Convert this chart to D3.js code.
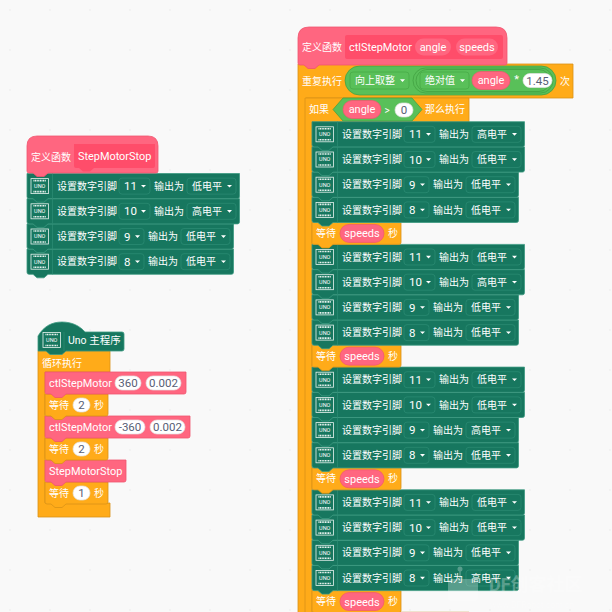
<!DOCTYPE html>
<html><head><meta charset="utf-8">
<script src="https://cdn.jsdelivr.net/npm/d3@7/dist/d3.min.js"></script>
<style>html,body{margin:0;padding:0;background:#f9f9f9}svg{display:block}
text{font-family:Roboto,"Noto Sans CJK SC","Noto Sans",sans-serif;fill:#fff;font-size:10px}</style>
</head><body><svg id="c" width="612" height="612"></svg>
<script>
// ---- content ----
const funcNames = ["StepMotorStop", "ctlStepMotor"];
const params = ["angle", "speeds"];
const stopPins = [11, 10, 9, 8];
const stopLevels = ["低电平", "高电平", "低电平", "低电平"];
const motorPins = [11, 10, 9, 8];
const motorLevelGroups = [
  ["高电平", "低电平", "低电平", "低电平"],
  ["低电平", "高电平", "低电平", "低电平"],
  ["低电平", "低电平", "高电平", "低电平"],
  ["低电平", "低电平", "低电平", "高电平"]
];
const mainCalls = [["ctlStepMotor", "360", "0.002"], ["ctlStepMotor", "-360", "0.002"], ["StepMotorStop"]];
const mainWaits = ["2", "2", "1"];
const repeatFactor = "1.45";
const compareValue = "0";

// ---- palette ----
const C = {green:"#17775f", greenE:"#3d9a82", greenB:"#2b8a72", pink:"#ff6680", pinkD:"#ff4d6a", pinkE:"#f0566f",
  orange:"#ffab19", orangeE:"#d99316", lime:"#59c059", limeD:"#48ab48", limeE:"#3f9e3f", ink:"#575e75"};
const NAME=10.9;

const svg = d3.select("#c");
svg.append("rect").attr("width",612).attr("height",612).attr("fill","#f9f9f9");
// faint dotted workspace
const gx = d3.range(10,612,40), gy = d3.range(10,612,40);
svg.append("g").selectAll("circle").data(d3.cross(gx,gy)).join("circle")
  .attr("cx",d=>d[0]).attr("cy",d=>d[1]).attr("r",0.9).attr("fill","#f0f0f0");

// ---- shape helpers ----
function tabPath(x,y,w,h,opts={}){
  const p=d3.path(), r=2, tx=opts.tab===undefined?6:opts.tab;
  if(opts.hat){ const R=opts.hat; p.moveTo(x,y+R); p.quadraticCurveTo(x,y,x+R,y); p.lineTo(x+w-R,y); p.quadraticCurveTo(x+w,y,x+w,y+R); }
  else { p.moveTo(x,y); p.lineTo(x+w,y); }
  p.lineTo(x+w,y+h-r); p.quadraticCurveTo(x+w,y+h,x+w-r,y+h);
  if(!opts.noTab){ p.lineTo(x+tx+15,y+h); p.lineTo(x+tx+11,y+h+3.5); p.lineTo(x+tx+4,y+h+3.5); p.lineTo(x+tx,y+h); }
  p.lineTo(x+r,y+h); p.quadraticCurveTo(x,y+h,x,y+h-r); p.closePath();
  return p.toString();
}
function block(stack,x,y,w,h,fill,stroke,opts){
  const g=stack.append("g"); g.lower();
  g.append("path").attr("d",tabPath(x,y,w,h,opts)).attr("fill",fill).attr("stroke",stroke).attr("stroke-width",0.8);
  return g;
}
function label(g,x,y,t,size,anchor,fill){
  return g.append("text").attr("x",x).attr("y",y).attr("dy","0.36em").attr("font-size",size||10)
    .style("font-size",(size||10)+"px").attr("text-anchor",anchor||"start").style("fill",fill||"#fff").text(t);
}
function pill(g,x0,x1,cy,h,fill,stroke,t,tfill,size){
  g.append("rect").attr("x",x0).attr("y",cy-h/2).attr("width",x1-x0).attr("height",h).attr("rx",h/2)
    .attr("fill",fill).attr("stroke",stroke||"none").attr("stroke-width",0.7);
  if(t!==undefined) label(g,(x0+x1)/2,cy,t,size||11,"middle",tfill||"#fff");
}
function dropdown(g,x0,x1,cy,h,fill,stroke,t){
  g.append("rect").attr("x",x0).attr("y",cy-h/2).attr("width",x1-x0).attr("height",h).attr("rx",3)
    .attr("fill",fill).attr("stroke",stroke).attr("stroke-width",0.8);
  label(g,x0+5,cy,t,/\d/.test(t)?11.5:10);
  const p=d3.path(), ax=x1-9, ay=cy-1.2; p.moveTo(ax,ay); p.lineTo(ax+5,ay); p.lineTo(ax+2.5,ay+2.6); p.closePath();
  g.append("path").attr("d",p.toString()).attr("fill","#fff");
}
function unoIcon(g,x,cy){
  const w=17.5,h=15,y=cy-h/2;
  g.append("rect").attr("x",x).attr("y",y).attr("width",w).attr("height",h).attr("fill","none").attr("stroke","#e8f3ef").attr("stroke-width",0.8);
  g.append("line").attr("x1",x+2.5).attr("x2",x+w-2.5).attr("y1",y+2).attr("y2",y+2).attr("stroke","#fff").attr("stroke-width",1.6).attr("stroke-dasharray","1 .6");
  g.append("line").attr("x1",x+2.5).attr("x2",x+w-2.5).attr("y1",y+h-2).attr("y2",y+h-2).attr("stroke","#fff").attr("stroke-width",1.6).attr("stroke-dasharray","1 .6");
  label(g,x+w/2,cy,"UNO",5.5,"middle");
}
const ROW=25.2, WAITH=21.9;
function pinRow(stack,x,y,pin,level){
  const extra = String(pin).length>1?6:0;
  const g=block(stack,x,y,206.5+extra,ROW,C.green,C.greenE,{});
  const cy=y+ROW/2;
  unoIcon(g,x+4,cy);
  g.append("line").attr("x1",x+25.5).attr("x2",x+25.5).attr("y1",y).attr("y2",y+ROW).attr("stroke",C.greenB).attr("stroke-width",0.8);
  label(g,x+30,cy,"设置数字引脚",10);
  dropdown(g,x+92,x+117+extra,cy,16,C.green,C.greenB,String(pin));
  label(g,x+121+extra,cy,"输出为",10);
  dropdown(g,x+154+extra,x+203+extra,cy,16,C.green,C.greenB,level);
}
function waitRow(stack,x,y,w,h,val,isParam){
  const g=block(stack,x,y,w,h,C.orange,C.orangeE,{});
  const cy=y+h/2;
  label(g,x+4,cy,"等待",10);
  if(isParam){ pill(g,x+28,x+72,cy,18,C.pink,C.pinkE,val,"#fff",11); label(g,x+76,cy,"秒",10); }
  else { pill(g,x+28,x+45,cy,14,"#fff","#e3e3e3",val,C.ink,11.5); label(g,x+49,cy,"秒",10); }
}

// ---- left: StepMotorStop definition ----
{
  const s=svg.append("g");
  const g=block(s,27,136,131,37,C.pink,C.pinkE,{hat:10,tab:6});
  label(g,31,157,"定义函数",10);
  g.append("path").attr("d",tabPath(74,144,81,24,{tab:5})).attr("fill",C.pinkD);
  label(g,78,156.5,funcNames[0],NAME);
  stopPins.forEach((p,i)=>pinRow(s,27,173.5+i*ROW,p,stopLevels[i]));
}

// ---- bottom left: Uno main program ----
{
  const s=svg.append("g");
  const hg=s.append("g");
  const hp=d3.path(); hp.moveTo(38,351); hp.lineTo(38,336); hp.bezierCurveTo(44,326,52,322,62,322); hp.bezierCurveTo(72,322,80,326,85,332);
  hp.lineTo(122,332); hp.quadraticCurveTo(124,332,124,334); hp.lineTo(124,349); hp.quadraticCurveTo(124,351,122,351);
  hp.lineTo(66,351); hp.lineTo(62,354.5); hp.lineTo(50,354.5); hp.lineTo(46,351); hp.closePath();
  const loop=d3.path();
  loop.moveTo(38,351); loop.lineTo(110,351); loop.lineTo(110,372); loop.lineTo(45,372); loop.lineTo(45,503); loop.lineTo(110,503); loop.lineTo(110,517); loop.lineTo(38,517); loop.closePath();
  s.append("path").attr("d",loop.toString()).attr("fill",C.orange).attr("stroke",C.orangeE).attr("stroke-width",0.8);
  label(s,42,363,"循环执行",10);
  let y=372; const blocks=s.append("g");
  mainCalls.forEach((c,i)=>{
    const h=22, extra = c.length>1 ? (c[1].length>3?4:0) : 0;
    if(c.length>1){
      const g=block(blocks,45,y,141+extra,h,C.pink,C.pinkE,{});
      label(g,49,y+h/2,c[0],NAME);
      pill(g,115,141+extra,y+h/2,14,"#fff","#e3e3e3",c[1],C.ink,11.5);
      pill(g,146+extra,181+extra,y+h/2,14,"#fff","#e3e3e3",c[2],C.ink,11.5);
    } else {
      const g=block(blocks,45,y,81,h,C.pink,C.pinkE,{});
      label(g,49,y+h/2,c[0],NAME);
    }
    y+=h;
    waitRow(blocks,45,y,63,22,mainWaits[i],false);
    y+=22;
  });
  hg.raise();
  hg.append("path").attr("d",hp.toString()).attr("fill",C.green).attr("stroke",C.greenE).attr("stroke-width",0.8);
  unoIcon(hg,43,340);
  hg.append("line").attr("x1",64).attr("x2",64).attr("y1",332).attr("y2",351).attr("stroke",C.greenB).attr("stroke-width",0.8);
  label(hg,68,340,"Uno 主程序",10.5);
}

// ---- right: ctlStepMotor definition ----
{
  const s=svg.append("g");
  const armR=d3.path(); armR.moveTo(298,64); armR.lineTo(573,64); armR.lineTo(573,98); armR.lineTo(306,98); armR.lineTo(306,640); armR.lineTo(298,640); armR.closePath();
  const armI=d3.path(); armI.moveTo(305,98); armI.lineTo(469,98); armI.lineTo(469,122); armI.lineTo(312,122); armI.lineTo(312,640); armI.lineTo(305,640); armI.closePath();
  const body=s.append("g");
  body.append("path").attr("d",armR.toString()).attr("fill",C.orange).attr("stroke",C.orangeE).attr("stroke-width",0.8);
  body.append("path").attr("d",armI.toString()).attr("fill",C.orange).attr("stroke",C.orangeE).attr("stroke-width",0.8);

  const g=body;
  label(g,302,81,"重复执行",10);
  pill(g,345,556,80.5,29,C.lime,C.limeE);
  dropdown(g,350,409,80.5,17,C.lime,C.limeD,"向上取整");
  pill(g,413,553,80.5,25,C.lime,C.limeE);
  pill(g,416,550,80.5,22,C.lime,C.limeE);
  dropdown(g,420,469,80.5,17,C.lime,C.limeD,"绝对值");
  pill(g,472,510,80.5,18,C.pink,C.pinkE,params[0],"#fff",11);
  label(g,516.5,79,"*",11,"middle");
  pill(g,523,552,80.5,14,"#fff","#e3e3e3",repeatFactor,C.ink,11.5);
  label(g,560,81,"次",10);

  label(g,309,109.5,"如果",10);
  const hex=d3.path(); hex.moveTo(333,109.5); hex.lineTo(343,98); hex.lineTo(412,98); hex.lineTo(422,109.5); hex.lineTo(412,121); hex.lineTo(343,121); hex.closePath();
  g.append("path").attr("d",hex.toString()).attr("fill",C.lime).attr("stroke",C.limeE).attr("stroke-width",0.7);
  pill(g,343,381,109.5,18,C.pink,C.pinkE,params[0],"#fff",11);
  label(g,387,110,">",10,"middle");
  pill(g,395,413,110,14,"#fff","#e3e3e3",compareValue,C.ink,11.5);
  label(g,425,109.5,"那么执行",10);

  const rows=s.append("g");
  let y=121.7;
  motorLevelGroups.forEach(levels=>{
    motorPins.forEach((p,i)=>{ pinRow(rows,312,y,p,levels[i]); y+=ROW; });
    waitRow(rows,312,y,89,WAITH,params[1],true);
    y+=WAITH;
  });

  const hg=s.append("g");
  const hb=hg.append("g");
  hb.append("path").attr("d",tabPath(298,27,209,38,{hat:11,tab:6})).attr("fill",C.pink).attr("stroke",C.pinkE).attr("stroke-width",0.8);
  label(hb,302,47,"定义函数",10);
  hb.append("rect").attr("x",345).attr("y",35).attr("width",158).attr("height",24).attr("rx",2).attr("fill",C.pinkD);
  label(hb,349,47,funcNames[1],NAME);
  pill(hb,415,451,47,17,C.pink,null,params[0],"#fff",11);
  pill(hb,456,498,47,17,C.pink,null,params[1],"#fff",11);
  g.append("rect").attr("x",312).attr("y",611).attr("width",157).attr("height",1).attr("fill","#efe3cf");
}

// ---- watermark ----
{
  const w=svg.append("g").attr("opacity",0.28);
  w.append("rect").attr("x",448).attr("y",579).attr("width",30).attr("height",22).attr("rx",4).attr("fill","#fff");
  w.append("line").attr("x1",460).attr("x2",460).attr("y1",569).attr("y2",580).attr("stroke","#fff").attr("stroke-width",1.5);
  w.append("circle").attr("cx",460).attr("cy",569).attr("r",2.5).attr("fill","#fff");
  w.append("text").attr("x",489).attr("y",591).style("font-size","18px").style("font-weight",700).text("DF创客社区");
  w.append("text").attr("x",490).attr("y",608).style("font-size","8.5px").text("www.DFRobot.com.cn");
}
</script></body></html>
